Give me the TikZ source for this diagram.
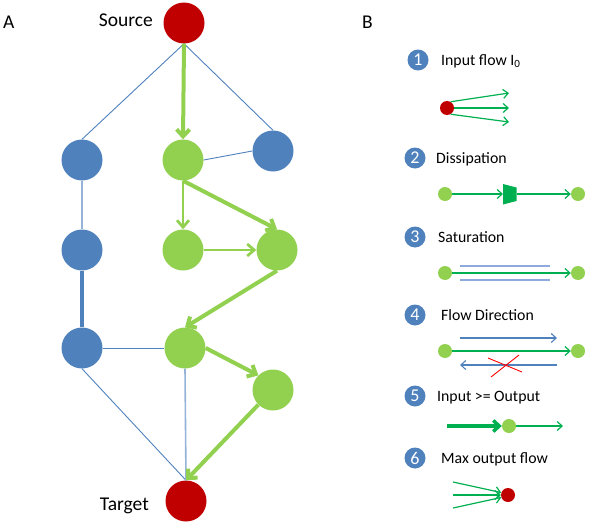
\documentclass[tikz,border=0pt]{standalone}
\usepackage{fontspec}
\setmainfont{Carlito}
\usetikzlibrary{arrows.meta}
\definecolor{cred}{HTML}{C00000}
\definecolor{cblue}{HTML}{4F81BD}
\definecolor{clblue}{HTML}{95B3D7}
\definecolor{csat}{HTML}{8EA9DB}
\definecolor{cgreen}{HTML}{92D050}
\definecolor{cdgreen}{HTML}{00B050}
\tikzset{
  big/.style={circle, minimum size=41pt, inner sep=0pt, draw=none},
  rednode/.style={big, fill=cred},
  bluenode/.style={big, fill=cblue},
  greennode/.style={big, fill=cgreen},
  gthick/.style={draw=cgreen, line width=4pt, -{Straight Barb[length=7pt,width=13pt]}},
  gmed/.style={draw=cgreen, line width=2.7pt, -{Straight Barb[length=7pt,width=12pt]}},
  thinblue/.style={draw=cblue, line width=0.9pt},
  lightblue/.style={draw=clblue, line width=1.6pt},
  thickblue/.style={draw=cblue, line width=4pt},
  biglabel/.style={font=\fontsize{19.5}{22}\selectfont, inner sep=0pt},
  numc/.style={circle, fill=cblue, minimum size=21pt, inner sep=0pt, text=white, font=\fontsize{18}{18}\selectfont},
  legtext/.style={font=\fontsize{15.8}{18}\selectfont, anchor=base west, inner sep=0pt},
  gdot/.style={circle, fill=cgreen, minimum size=14pt, inner sep=0pt},
  rdot/.style={circle, fill=cred, minimum size=14pt, inner sep=0pt},
  darr/.style={draw=cdgreen, line width=1.2pt, -{Straight Barb[length=5pt,width=9pt]}},
  barr/.style={draw=cblue, line width=1.1pt, -{Straight Barb[length=5pt,width=9pt]}},
  satline/.style={draw=csat, line width=1.6pt},
  crossline/.style={draw=red, line width=0.9pt},
}
\begin{document}
\begin{tikzpicture}[x=1pt,y=-1pt]
\useasboundingbox (0,0) rectangle (600,530);
% ---------- Panel A ----------
\node[biglabel, anchor=base west] (labA) at (3,28) {A};
\node[biglabel, anchor=base west] (labB) at (362,28) {B};

\node[rednode] (src) at (184,23) {};
\node[rednode] (tgt) at (186,501) {};
\node[biglabel, anchor=base east] (srclab) at (153,26) {Source};
\node[biglabel, anchor=base east] (tgtlab) at (149,510) {Target};

\node[bluenode] (bl1) at (82,160) {};
\node[greennode] (gm1) at (183,160) {};
\node[bluenode] (br1) at (273,151) {};
\node[bluenode] (bl2) at (82,250) {};
\node[greennode] (gm2) at (183,250) {};
\node[greennode] (gr2) at (277,250) {};
\node[bluenode] (bl3) at (82,348) {};
\node[greennode] (gm3) at (185,348) {};
\node[greennode] (gr3) at (273,390) {};

\draw[thinblue] (src.south) -- (bl1.north);
\draw[thinblue] (src.south) -- (br1.north);
\draw[thinblue] (gm1.east) -- (br1.west);
\draw[lightblue] (bl1.south) -- (bl2.north);
\draw[thickblue] (bl2.south) -- (bl3.north);
\draw[thinblue] (bl3.east) -- (gm3.west);
\draw[thinblue] (bl3.south) -- (tgt.north);
\draw[lightblue] (gm3.south) -- (tgt.north);

\draw[gthick] (src.south) -- (gm1.north);
\draw[gmed] (gm1.south) -- (gm2.north);
\draw[gthick] (gm1.south) -- (gr2.north);
\draw[gmed] (gm2.east) -- (gr2.west);
\draw[gthick] (gr2.south) -- (gm3.north);
\draw[gthick] (gm3.east) -- (gr3.north west);
\draw[gthick] (gr3.south west) -- (tgt.north);

% ---------- Panel B ----------
\node[numc] (n1) at (418,60) {1};
\node[numc] (n2) at (415,158) {2};
\node[numc] (n3) at (415,237) {3};
\node[numc] (n4) at (415,315) {4};
\node[numc] (n5) at (415,396) {5};
\node[numc] (n6) at (415,458) {6};
\node[legtext] (t1) at (441,65) {Input flow I\textsubscript{0}};
\node[legtext] (t2) at (436,163) {Dissipation};
\node[legtext] (t3) at (438,242) {Saturation};
\node[legtext] (t4) at (441,320) {Flow Direction};
\node[legtext] (t5) at (437,401) {Input >= Output};
\node[legtext] (t6) at (441,463) {Max output flow};

% 1 input flow
\node[rdot] (r1) at (447,108) {};
\coordinate (e1a) at (509,93);
\coordinate (e1b) at (509,108);
\coordinate (e1c) at (509,122);
\draw[darr] (r1.60) -- (e1a);
\draw[darr] (r1.east) -- (e1b);
\draw[darr] (r1.-60) -- (e1c);

% 2 dissipation
\node[gdot] (d2a) at (445,194) {};
\node[gdot] (d2b) at (578,194) {};
\coordinate (trl) at (503,194);
\coordinate (trr) at (516.5,194);
\fill[cdgreen] (503,184) -- (516.5,187.5) -- (516.5,201) -- (503,204.5) -- cycle;
\draw[darr] (d2a.east) -- (trl);
\draw[darr] (trr) -- (d2b.west);

% 3 saturation
\node[gdot] (d3a) at (445,273) {};
\node[gdot] (d3b) at (578,273) {};
\coordinate (s1a) at (460,266);
\coordinate (s1b) at (550,266);
\coordinate (s2a) at (460,280);
\coordinate (s2b) at (550,280);
\draw[satline] (s1a) -- (s1b);
\draw[satline] (s2a) -- (s2b);
\draw[darr] (d3a.east) -- (d3b.west);

% 4 flow direction
\node[gdot] (d4a) at (445,351) {};
\node[gdot] (d4b) at (578,351) {};
\coordinate (f1a) at (460,338);
\coordinate (f1b) at (557,338);
\coordinate (f2a) at (557,365);
\coordinate (f2b) at (460,365);
\draw[barr] (f1a) -- (f1b);
\draw[darr] (d4a.east) -- (d4b.west);
\draw[barr] (f2a) -- (f2b);
\coordinate (x1a) at (488,358);
\coordinate (x1b) at (522,372);
\coordinate (x2a) at (491,377);
\coordinate (x2b) at (519,355);
\draw[crossline] (x1a) -- (x1b);
\draw[crossline] (x2a) -- (x2b);

% 5 input >= output
\node[gdot] (d5) at (509,426) {};
\coordinate (i5) at (447,426);
\coordinate (o5) at (563,426);
\draw[draw=cdgreen, line width=3.5pt, -{Straight Barb[length=6pt,width=11pt]}] (i5) -- (d5.west);
\draw[darr] (d5.east) -- (o5);

% 6 max output flow
\node[rdot] (r6) at (508,495) {};
\coordinate (m6a) at (453,482);
\coordinate (m6b) at (453,495);
\coordinate (m6c) at (453,508);
\draw[darr] (m6a) -- (r6.160);
\draw[darr] (m6b) -- (r6.west);
\draw[darr] (m6c) -- (r6.200);
\end{tikzpicture}
\end{document}
